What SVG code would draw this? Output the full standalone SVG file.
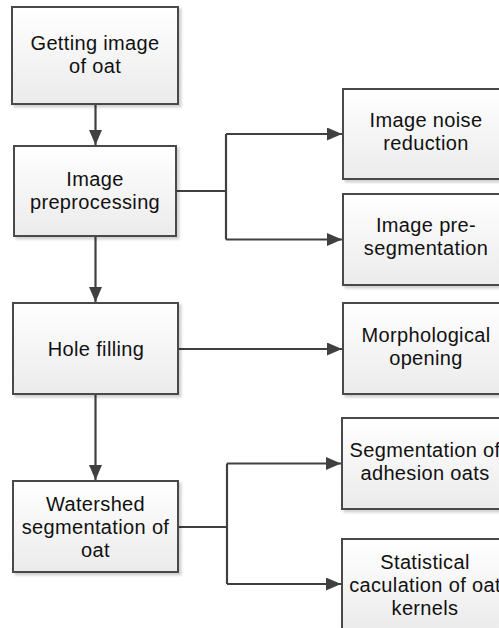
<svg xmlns="http://www.w3.org/2000/svg" width="499" height="628" viewBox="0 0 499 628">
<style>
.box{fill:url(#g);stroke:#484848;stroke-width:2;filter:url(#sh)}
.t{font-family:"Liberation Sans",Arial,sans-serif;font-size:20px;letter-spacing:0.35px;fill:#111;text-anchor:middle}
.c{fill:none;stroke:#404040;stroke-width:2.2}
</style>
<defs>
<linearGradient id="g" x1="0" y1="0" x2="0" y2="1">
<stop offset="0" stop-color="#ffffff"/>
<stop offset="1" stop-color="#ebebeb"/>
</linearGradient>
<filter id="sh" x="-10%" y="-10%" width="130%" height="130%">
<feDropShadow dx="2.5" dy="2.5" stdDeviation="1" flood-color="#000" flood-opacity="0.18"/>
</filter>
<marker id="a" markerUnits="userSpaceOnUse" markerWidth="15" markerHeight="13" refX="15" refY="6.5" orient="auto">
<path d="M0,0 L15,6.5 L0,13 z" fill="#404040"/>
</marker>
</defs>
<rect width="499" height="628" fill="#fff"/>
<g id="connectors">
<path class="c" d="M95.5,104 V145" marker-end="url(#a)"/>
<path class="c" d="M95.5,236 V302" marker-end="url(#a)"/>
<path class="c" d="M95.5,394 V480" marker-end="url(#a)"/>
<path class="c" d="M176,191 H226"/>
<path class="c" d="M226,134 V239.5"/>
<path class="c" d="M226,134 H342" marker-end="url(#a)"/>
<path class="c" d="M226,239.5 H342" marker-end="url(#a)"/>
<path class="c" d="M178,349 H342" marker-end="url(#a)"/>
<path class="c" d="M178,527 H227"/>
<path class="c" d="M227,463.5 V584"/>
<path class="c" d="M227,463.5 H341" marker-end="url(#a)"/>
<path class="c" d="M227,584 H341" marker-end="url(#a)"/>
</g>
<g id="n1"><rect class="box" x="12" y="7" width="166" height="97"/>
<text class="t" x="95" y="50">Getting image</text><text class="t" x="95" y="73">of oat</text></g>
<g id="n2"><rect class="box" x="14" y="146" width="162" height="90"/>
<text class="t" x="95" y="186">Image</text><text class="t" x="95" y="209">preprocessing</text></g>
<g id="n3"><rect class="box" x="13" y="303" width="165" height="91"/>
<text class="t" x="96" y="355.5">Hole filling</text></g>
<g id="n4"><rect class="box" x="13" y="481" width="165" height="91"/>
<text class="t" x="95.5" y="511">Watershed</text><text class="t" x="95.5" y="534">segmentation of</text><text class="t" x="95.5" y="557">oat</text></g>
<g id="n5"><rect class="box" x="343" y="89" width="166" height="90"/>
<text class="t" x="426" y="127">Image noise</text><text class="t" x="426" y="150">reduction</text></g>
<g id="n6"><rect class="box" x="343" y="194" width="166" height="91"/>
<text class="t" x="426" y="232">Image pre-</text><text class="t" x="426" y="255">segmentation</text></g>
<g id="n7"><rect class="box" x="343" y="303" width="166" height="91"/>
<text class="t" x="426" y="341.5">Morphological</text><text class="t" x="426" y="364.5">opening</text></g>
<g id="n8"><rect class="box" x="342" y="418" width="166" height="91"/>
<text class="t" x="425" y="456.5">Segmentation of</text><text class="t" x="425" y="479.5">adhesion oats</text></g>
<g id="n9"><rect class="box" x="342" y="539" width="166" height="91"/>
<text class="t" x="425" y="568.5">Statistical</text><text class="t" x="425" y="591.5">caculation of oat</text><text class="t" x="425" y="614.5">kernels</text></g>
</svg>
